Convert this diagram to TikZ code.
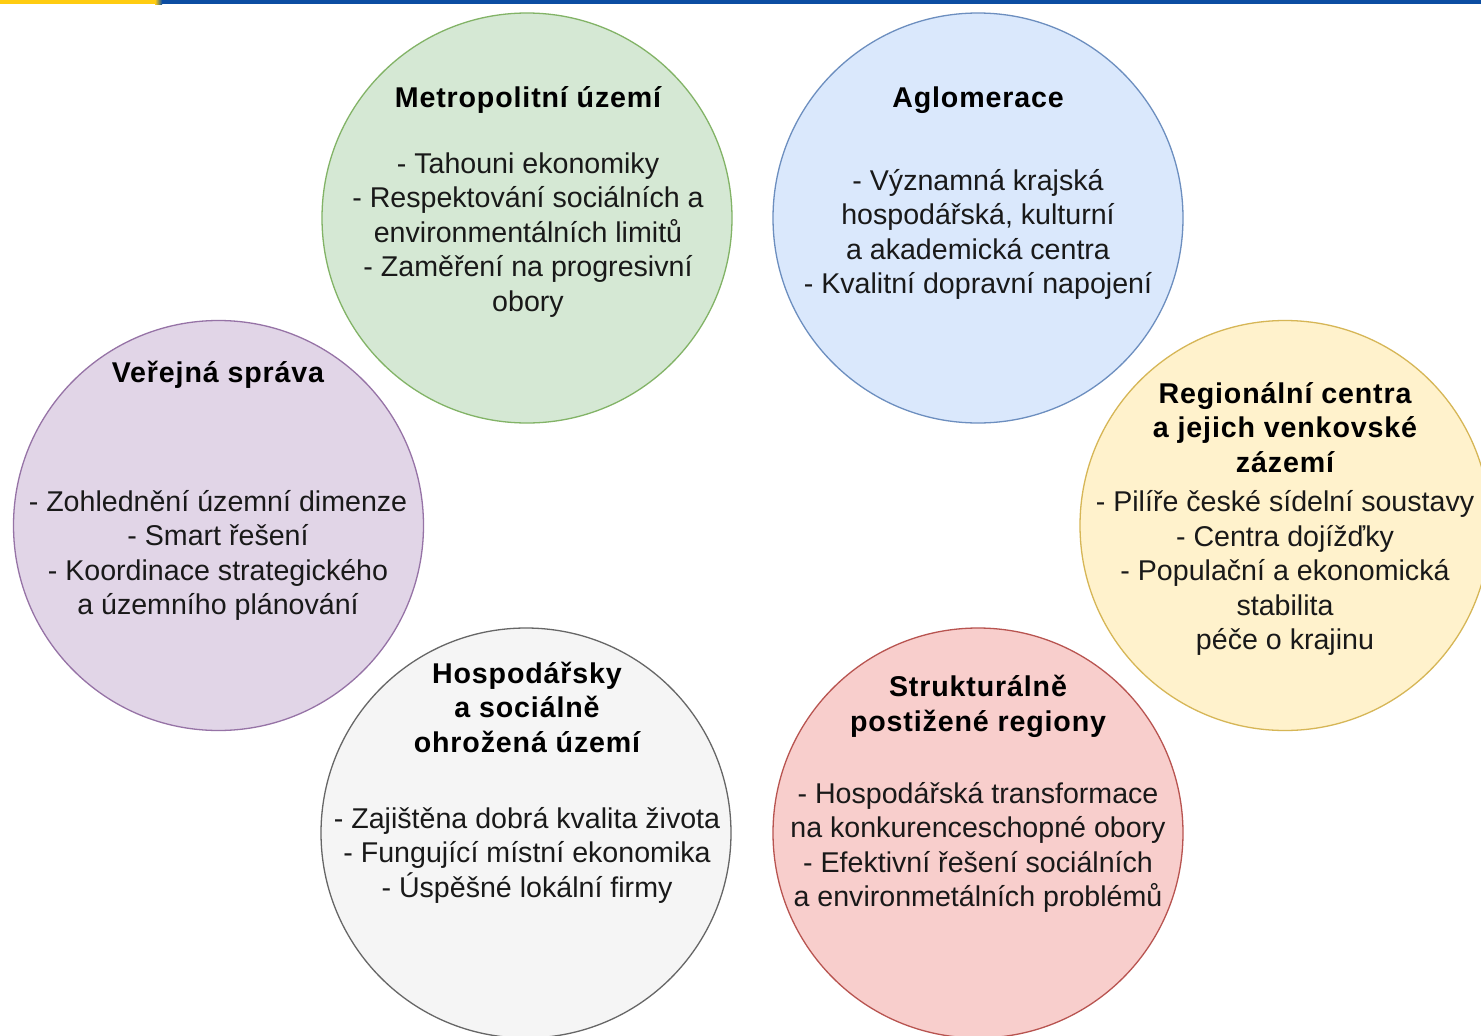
\documentclass[tikz,border=0pt]{standalone}
\usepackage{fontspec}
\setmainfont{Liberation Sans}
\newfontfamily\ttlfont[LetterSpace=3]{Liberation Sans}
\usetikzlibrary{calc}
\definecolor{gfill}{HTML}{D5E8D4}\definecolor{gline}{HTML}{82B366}
\definecolor{bfill}{HTML}{DAE8FC}\definecolor{bline}{HTML}{6C8EBF}
\definecolor{pfill}{HTML}{E1D5E7}\definecolor{pline}{HTML}{9673A6}
\definecolor{yfill}{HTML}{FFF2CC}\definecolor{yline}{HTML}{D6B656}
\definecolor{sfill}{HTML}{F5F5F5}\definecolor{sline}{HTML}{666666}
\definecolor{rfill}{HTML}{F8CECC}\definecolor{rline}{HTML}{B85450}
\definecolor{barY}{HTML}{FFCC11}\definecolor{barB}{HTML}{0C4DA2}
\tikzset{
  bubble/.style={circle, minimum size=410pt, inner sep=0pt, line width=1.3pt},
  ttl/.style={align=center, font=\ttlfont\fontsize{28.6}{34.5}\selectfont\bfseries, inner sep=0pt},
  bodytext/.style={align=center, font=\fontsize{28.6}{34.5}\selectfont, inner sep=0pt, text=black!90},
}
\begin{document}
\begin{tikzpicture}[x=1pt,y=-1pt]
\clip (0,0) rectangle (1481,1036);
\useasboundingbox (0,0) rectangle (1481,1036);
\fill[white] (0,0) rectangle (1481,1036);
% top bar
\fill[barY] (0,0) rectangle (155,4);
\shade[left color=barY, right color=barB] (155,0) rectangle (162,4);
\fill[barB] (162,0) rectangle (1481,4);
% circles
\node[bubble, fill=gfill, draw=gline] (c1) at (527,218) {};
\node[bubble, fill=bfill, draw=bline] (c2) at (978,218) {};
\node[bubble, fill=pfill, draw=pline] (c3) at (218.5,525.5) {};
\node[bubble, fill=yfill, draw=yline] (c4) at (1285,525.5) {};
\node[bubble, fill=sfill, draw=sline] (c5) at (526,833) {};
\node[bubble, fill=rfill, draw=rline] (c6) at (978,833) {};
% texts
\node[ttl] (t1) at (528,100) {Metropolitní území};
\node[bodytext] (b1) at (528,235) {- Tahouni ekonomiky\\- Respektování sociálních a\\environmentálních limitů\\- Zaměření na progresivní\\obory};
\node[ttl] (t2) at (978,100) {Aglomerace};
\node[bodytext] (b2) at (978,234.5) {- Významná krajská\\hospodářská, kulturní\\a akademická centra\\- Kvalitní dopravní napojení};
\node[ttl] (t3) at (218,375) {Veřejná správa};
\node[bodytext] (b3) at (218,555.5) {- Zohlednění územní dimenze\\- Smart řešení\\- Koordinace strategického\\a územního plánování};
\node[ttl] (t4) at (1285,427.5) {Regionální centra\\a jejich venkovské\\zázemí};
\node[bodytext] (b4) at (1285,573) {- Pilíře české sídelní soustavy\\- Centra dojížďky\\- Populační a ekonomická\\stabilita\\péče o krajinu};
\node[ttl] (t5) at (527,707) {Hospodářsky\\a sociálně\\ohrožená území};
\node[bodytext] (b5) at (527,855) {- Zajištěna dobrá kvalita života\\- Fungující místní ekonomika\\- Úspěšné lokální firmy};
\node[ttl] (t6) at (978,706.5) {Strukturálně\\postižené regiony};
\node[bodytext] (b6) at (978,847.5) {- Hospodářská transformace\\na konkurenceschopné obory\\- Efektivní řešení sociálních\\a environmetálních problémů};
\end{tikzpicture}
\end{document}
